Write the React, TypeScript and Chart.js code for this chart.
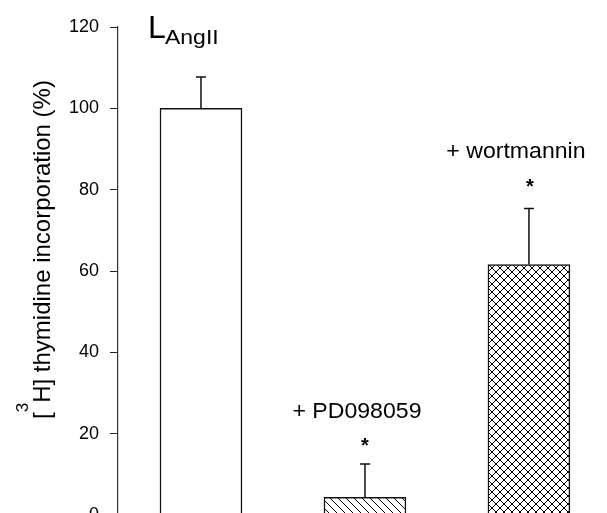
import React, { useEffect, useRef } from "react";
import { Chart, registerables } from "chart.js";

Chart.register(...registerables);

const categories = ["AngII", "+ PD098059", "+ wortmannin"];
const means = [100, 4.4, 61.6];
const errors = [7.7, 8.2, 13.8];
const yMin = 0;
const yMax = 120;
const yStep = 20;
const yTitleMain = "H] thymidine incorporation (%)";
const FONT = '"Liberation Sans", Arial, Helvetica, sans-serif';

function makePattern(cross: boolean): CanvasPattern | string {
  const s = 8;
  const c = document.createElement("canvas");
  c.width = s;
  c.height = s;
  const g = c.getContext("2d");
  if (!g) return "#fff";
  g.fillStyle = "#fff";
  g.fillRect(0, 0, s, s);
  g.strokeStyle = "#000";
  g.lineWidth = 1;
  for (const x0 of [-s, 0, s]) {
    g.beginPath();
    g.moveTo(x0, 0);
    g.lineTo(x0 + s, s);
    g.stroke();
    if (cross) {
      g.beginPath();
      g.moveTo(x0 + s, 0);
      g.lineTo(x0, s);
      g.stroke();
    }
  }
  const p = g.createPattern(c, "repeat");
  return p || "#fff";
}

function stretchedText(
  ctx: CanvasRenderingContext2D,
  text: string,
  x: number,
  y: number,
  font: string,
  sx: number,
  align: CanvasTextAlign
) {
  ctx.save();
  ctx.translate(x, y);
  ctx.scale(sx, 1);
  ctx.font = font;
  ctx.textAlign = align;
  ctx.textBaseline = "alphabetic";
  ctx.fillText(text, 0, 0);
  ctx.restore();
}

function star(ctx: CanvasRenderingContext2D, x: number, cy: number) {
  ctx.save();
  ctx.font = `bold 20px ${FONT}`;
  ctx.textAlign = "center";
  ctx.textBaseline = "alphabetic";
  const m = ctx.measureText("*");
  const off = (m.actualBoundingBoxAscent - m.actualBoundingBoxDescent) / 2;
  ctx.fillText("*", x, cy + off);
  ctx.restore();
}

const overlay = {
  id: "overlay",
  afterDatasetsDraw(chart: any) {
    const ctx: CanvasRenderingContext2D = chart.ctx;
    const xs = chart.scales.x;
    const ys = chart.scales.y;
    ctx.save();
    ctx.strokeStyle = "#111";
    ctx.lineWidth = 1.5;
    means.forEach((m, i) => {
      const x = xs.getPixelForValue(i);
      const y0 = ys.getPixelForValue(m);
      const y1 = ys.getPixelForValue(m + errors[i]);
      ctx.beginPath();
      ctx.moveTo(x, y0);
      ctx.lineTo(x, y1);
      ctx.moveTo(x - 5, y1);
      ctx.lineTo(x + 5, y1);
      ctx.stroke();
    });
    ctx.restore();
  },
  afterDraw(chart: any) {
    const ctx: CanvasRenderingContext2D = chart.ctx;
    const xs = chart.scales.x;
    const ys = chart.scales.y;
    ctx.save();
    ctx.fillStyle = "#000";

    // Y axis title with superscript
    const fMain = `24px ${FONT}`;
    const fSup = `17px ${FONT}`;
    ctx.font = fMain;
    const wB = ctx.measureText("[").width;
    const wRest = ctx.measureText(yTitleMain).width;
    ctx.font = fSup;
    const w3 = ctx.measureText("3").width;
    const total = wB + w3 + wRest;
    const cy = ys.getPixelForValue(65.3);
    ctx.save();
    ctx.translate(50, cy);
    ctx.rotate(-Math.PI / 2);
    ctx.textAlign = "left";
    ctx.textBaseline = "alphabetic";
    let x = -total / 2;
    ctx.font = fMain;
    ctx.fillText("[", x, 0);
    x += wB;
    ctx.font = fSup;
    ctx.fillText("3", x, -22);
    x += w3;
    ctx.font = fMain;
    ctx.fillText(yTitleMain, x, 0);
    ctx.restore();

    // L AngII marker
    const bx0 = xs.getPixelForValue(0);
    ctx.font = `32px ${FONT}`;
    ctx.textAlign = "left";
    ctx.fillText("L", bx0 - 53, 38);
    stretchedText(ctx, categories[0], bx0 - 36, 44, `20px ${FONT}`, 1.15, "left");

    // treatment labels
    const bx1 = xs.getPixelForValue(1);
    const bx2 = xs.getPixelForValue(2);
    stretchedText(ctx, categories[1], bx1 - 8, ys.getPixelForValue(23.9), `22px ${FONT}`, 1.05, "center");
    stretchedText(ctx, categories[2], bx2 - 13, ys.getPixelForValue(87.9), `22px ${FONT}`, 1.05, "center");
    star(ctx, bx1, ys.getPixelForValue(18));
    star(ctx, bx2 + 1, ys.getPixelForValue(81.6));
    ctx.restore();
  },
};

export default function App() {
  const ref = useRef<HTMLCanvasElement | null>(null);
  useEffect(() => {
    if (!ref.current) return;
    const fills = ["#ffffff", makePattern(false), makePattern(true)];
    const chart = new Chart(ref.current, {
      type: "bar",
      data: {
        datasets: [
          {
            label: "thymidine",
            data: means.map((v, i) => ({ x: i, y: v })),
            backgroundColor: fills as any,
            borderColor: "#111",
            borderWidth: 1.5,
            barThickness: 82,
          },
        ],
      },
      options: {
        animation: false,
        responsive: true,
        maintainAspectRatio: false,
        layout: { padding: { top: 27, right: 0, bottom: 9, left: 0 } },
        plugins: { legend: { display: false }, tooltip: { enabled: false } },
        scales: {
          x: {
            type: "linear",
            display: false,
            offset: false,
            min: -0.506,
            max: 2.476,
          },
          y: {
            min: yMin,
            max: yMax,
            ticks: {
              stepSize: yStep,
              color: "#000",
              font: { size: 18, family: FONT },
              padding: 11,
            },
            grid: {
              drawOnChartArea: false,
              drawTicks: true,
              tickLength: 8,
              color: "#222",
              lineWidth: 1,
            },
            border: { display: true, color: "#333", width: 1.2 },
            afterFit: (s: any) => {
              s.width = 118;
            },
          },
        },
      },
      plugins: [overlay],
    });
    return () => chart.destroy();
  }, []);
  return (
    <div
      style={{
        position: "fixed",
        left: 0,
        top: 0,
        width: 607,
        height: 513,
        overflow: "hidden",
        background: "#fff",
      }}
    >
      <div style={{ position: "relative", width: 607, height: 537 }}>
        <canvas ref={ref} />
      </div>
    </div>
  );
}
